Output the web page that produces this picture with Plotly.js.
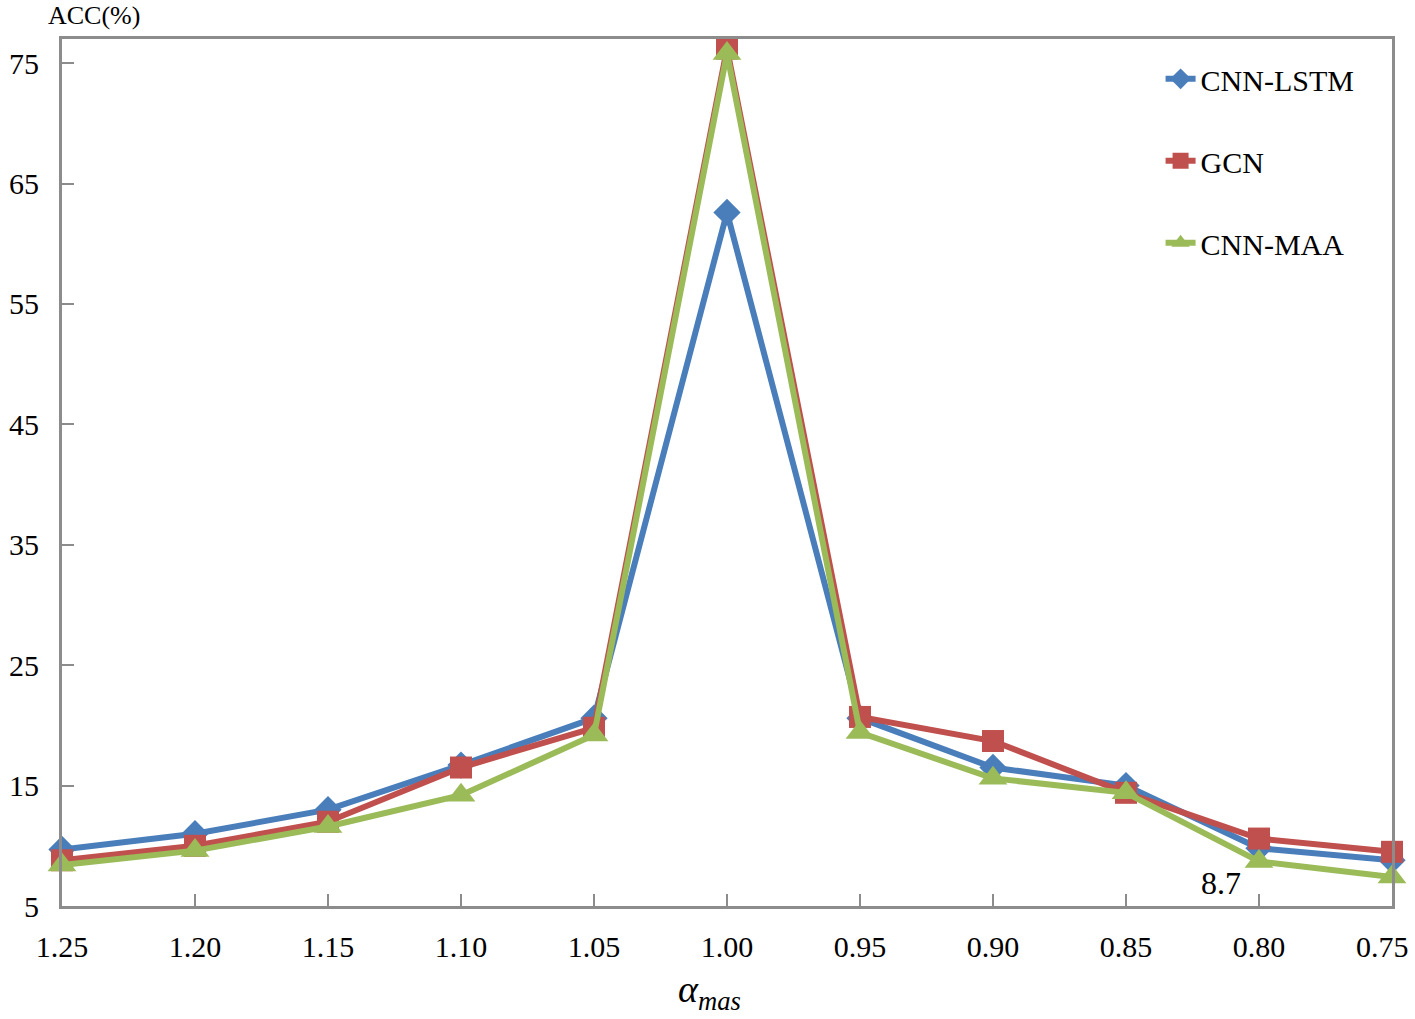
<!DOCTYPE html>
<html>
<head>
<meta charset="utf-8">
<script src="https://cdn.plot.ly/plotly-3.0.1.min.js"></script>
<style>
  html, body { margin: 0; padding: 0; background: #fff; }
  #chart { width: 1415px; height: 1019px; }
</style>
</head>
<body>
<div id="chart"></div>
<script>
// alpha_mas categories, left to right
const alphaLabels = ["1.25", "1.20", "1.15", "1.10", "1.05", "1.00", "0.95", "0.90", "0.85", "0.80", "0.75"];

// ACC (%) per model
const cnnLstm = [9.7, 11.0, 13.0, 16.7, 20.6, 62.6, 20.6, 16.5, 15.0, 9.8, 8.8];
const gcn     = [8.8, 10.0, 12.0, 16.5, 19.8, 76.2, 20.7, 18.7, 14.4, 10.6, 9.5];
const cnnMaa  = [8.4, 9.6, 11.6, 14.2, 19.2, 75.8, 19.4, 15.6, 14.4, 8.7, 7.4];

const yTicks = [5, 15, 25, 35, 45, 55, 65, 75];

const FONT = "Liberation Serif, Times New Roman, serif";
const AXIS_COLOR = "#8c8c8c";

const xs = alphaLabels.map((_, i) => i);
const last = alphaLabels.length - 1;
// last label is pulled in from the page edge (as the original does), drawn as an annotation
const tickText = alphaLabels.map((t, i) => (i === last ? "" : t));

function series(name, y, color, symbol, size) {
  return {
    x: xs, y: y, name: name, type: "scatter", mode: "lines+markers",
    line: { color: color, width: 6 },
    marker: { color: color, symbol: symbol, size: size },
    legendgroup: name,
    cliponaxis: false,
  };
}

const traces = [
  series("CNN-LSTM", cnnLstm, "#4a7ebb", "diamond", 21),
  series("GCN", gcn, "#c0504d", "square", 22),
  series("CNN-MAA", cnnMaa, "#9bbb59", "triangle-up", 25),
];

const layout = {
  width: 1415, height: 1019,
  paper_bgcolor: "#fff", plot_bgcolor: "#fff",
  font: { family: FONT, color: "#000", size: 30 },
  margin: { l: 62, r: 23, t: 39, b: 113 },
  showlegend: true,
  legend: {
    x: 0.826, y: 0.984, xanchor: "left", yanchor: "top",
    bgcolor: "rgba(0,0,0,0)", font: { size: 30 },
    traceorder: "grouped", tracegroupgap: 40,
  },
  xaxis: {
    range: [0, 10],
    tickmode: "array", tickvals: xs, ticktext: tickText,
    ticks: "inside", ticklen: 12, tickwidth: 2, tickcolor: AXIS_COLOR,
    showline: true, linecolor: AXIS_COLOR, linewidth: 3, mirror: true,
    showgrid: false, zeroline: false,
    ticklabelstandoff: 12, ticklabeloverflow: "allow",
  },
  yaxis: {
    range: [5, 77],
    tickmode: "array", tickvals: yTicks,
    ticks: "inside", ticklen: 12, tickwidth: 2, tickcolor: AXIS_COLOR,
    showline: true, linecolor: AXIS_COLOR, linewidth: 3, mirror: true,
    showgrid: false, zeroline: false,
    ticklabelstandoff: 14, ticklabeloverflow: "allow",
  },
  annotations: [
    { text: "ACC(%)", xref: "paper", yref: "paper", x: -0.012, y: 1.0, yshift: 24,
      xanchor: "left", yanchor: "middle", showarrow: false, font: { size: 26 } },
    { text: alphaLabels[last], xref: "paper", yref: "paper", x: 1.0, y: 0,
      xanchor: "right", yanchor: "middle", xshift: 19, yshift: -40,
      showarrow: false, font: { size: 30 } },
    { text: "<i>α</i><sub><i>mas</i></sub>", xref: "paper", yref: "paper",
      x: 0.487, y: 0, yshift: -86, xanchor: "center", yanchor: "middle",
      showarrow: false, font: { size: 38 } },
    { text: "8.7", x: 9, y: cnnMaa[9], xref: "x", yref: "y",
      xanchor: "right", yanchor: "top", xshift: -16, yshift: -2, showarrow: false,
      font: { size: 32 } },
  ],
};

Plotly.newPlot("chart", traces, layout, { displayModeBar: false, staticPlot: true });
</script>
</body>
</html>
